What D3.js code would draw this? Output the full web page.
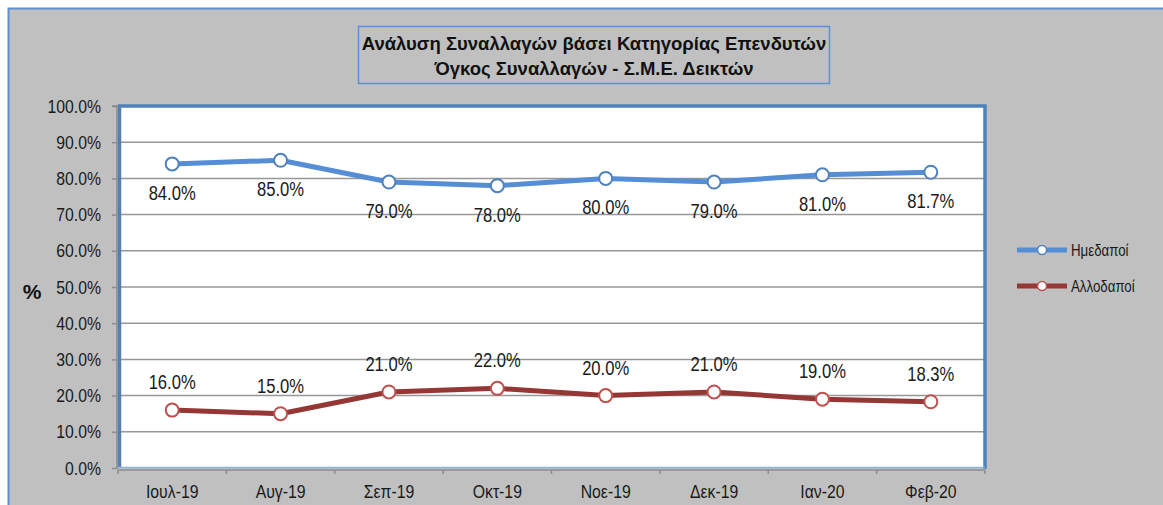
<!DOCTYPE html>
<html><head><meta charset="utf-8">
<script src="https://cdn.jsdelivr.net/npm/d3@7"></script>
<style>body{margin:0;background:#fff;}svg{display:block;}</style>
</head><body>
<svg id="c" width="1163" height="505"></svg>
<script>
const categories = ["Ιουλ-19","Αυγ-19","Σεπ-19","Οκτ-19","Νοε-19","Δεκ-19","Ιαν-20","Φεβ-20"];
const domestic = [84.0,85.0,79.0,78.0,80.0,79.0,81.0,81.7];
const foreign = [16.0,15.0,21.0,22.0,20.0,21.0,19.0,18.3];
const seriesNames = ["Ημεδαποί","Αλλοδαποί"];
const yTicks = [0,10,20,30,40,50,60,70,80,90,100];
const titleLines = ["Ανάλυση Συναλλαγών βάσει Κατηγορίας Επενδυτών","Όγκος Συναλλαγών - Σ.Μ.Ε. Δεικτών"];

const svg = d3.select("#c");
const narrow = "'Liberation Sans',Arial,sans-serif";
const sans = "'Liberation Sans',Arial,sans-serif";

svg.append("rect").attr("x",0).attr("y",0).attr("width",1163).attr("height",505).attr("fill","#fff");
svg.append("rect").attr("x",8.5).attr("y",8.5).attr("width",1170).attr("height",510)
  .attr("fill","#c0c0c0").attr("stroke","#5b8fd6").attr("stroke-width",2);

const L=118, R=985, T=106, B=468;
const x = d3.scaleBand().domain(categories).range([L,R]);
const y = d3.scaleLinear().domain([0,100]).range([B,T]);

svg.append("rect").attr("x",L+1).attr("y",T).attr("width",R-L-1).attr("height",B-T).attr("fill","#fff");
svg.append("g").selectAll("line").data(yTicks.filter(d=>d>0)).join("line")
  .attr("x1",L).attr("x2",R).attr("y1",d=>y(d)).attr("y2",d=>y(d))
  .attr("stroke","#979797").attr("stroke-width",1.5);
svg.append("path").attr("d",`M${L+1.5},${B} V${T} H${R} V${B+1}`).attr("fill","none")
  .attr("stroke","#4f81bd").attr("stroke-width",3.5);
svg.append("line").attr("x1",L).attr("x2",R).attr("y1",B-0.5).attr("y2",B-0.5).attr("stroke","#8db3e2").attr("stroke-width",1.5);

const ya = svg.append("g").attr("transform",`translate(${L-1},0)`)
  .call(d3.axisLeft(y).tickValues(yTicks).tickFormat(d=>d3.format(".1f")(d)+"%").tickSize(5).tickPadding(11));
ya.select(".domain").attr("stroke","#8c8c8c").attr("stroke-width",1.5).attr("d",`M-5,${T}H0V${B+1}`);
ya.selectAll(".tick line").attr("stroke","#8c8c8c").attr("stroke-width",1.5);
ya.selectAll("text").attr("font-family",narrow).attr("font-size",19).attr("fill","#1a1a1a").classed("nar",true);

const xa = svg.append("g").attr("transform",`translate(0,${B+2})`)
  .call(d3.axisBottom(x).tickSize(0).tickPadding(15));
xa.select(".domain").attr("stroke","#8c8c8c").attr("stroke-width",1.5).attr("d",`M${L},0H${R}`);
xa.selectAll("text").attr("font-family",narrow).attr("font-size",19).attr("fill","#1a1a1a").classed("nar",true);
const bounds = d3.range(categories.length+1).map(i=>L+i*x.bandwidth());
xa.append("g").selectAll("line").data(bounds).join("line")
  .attr("x1",d=>d).attr("x2",d=>d).attr("y1",0).attr("y2",4).attr("stroke","#8c8c8c").attr("stroke-width",1.5);

const cx = d=>x(d)+x.bandwidth()/2;
const series = [
  {name:seriesNames[0], vals:domestic, line:"#558ed5", mark:"#4f81bd", dy:36},
  {name:seriesNames[1], vals:foreign, line:"#953735", mark:"#c0504d", dy:-21}
];
const lineGen = d3.line().x(d=>cx(d.c)).y(d=>y(d.v));
series.forEach(s=>{
  const pts = categories.map((c,i)=>({c,v:s.vals[i]}));
  svg.append("path").datum(pts).attr("d",lineGen).attr("fill","none")
    .attr("stroke",s.line).attr("stroke-width",5).attr("stroke-linejoin","round");
  svg.append("g").selectAll("circle").data(pts).join("circle")
    .attr("cx",d=>cx(d.c)).attr("cy",d=>y(d.v)).attr("r",6.5)
    .attr("fill","#fff").attr("stroke",s.mark).attr("stroke-width",2);
  svg.append("g").selectAll("text").data(pts).join("text")
    .attr("x",d=>cx(d.c)).attr("y",d=>y(d.v)+s.dy).attr("text-anchor","middle")
    .attr("font-family",narrow).attr("font-size",20).attr("fill","#1a1a1a").classed("nar",true)
    .text(d=>d3.format(".1f")(d.v)+"%");
});

series.forEach((s,i)=>{
  const ly = 250 + i*36;
  svg.append("line").attr("x1",1017).attr("x2",1067).attr("y1",ly).attr("y2",ly)
    .attr("stroke",s.line).attr("stroke-width",5);
  svg.append("circle").attr("cx",1042).attr("cy",ly).attr("r",4.5).attr("fill","#fff").attr("stroke",s.mark).attr("stroke-width",1.5);
  svg.append("text").attr("x",1071).attr("y",ly+6).attr("font-family",narrow).attr("font-size",16).attr("fill","#1a1a1a").classed("nar",true).text(s.name);
});

svg.append("text").attr("x",32).attr("y",299).attr("text-anchor","middle")
  .attr("font-family",sans).attr("font-weight","bold").attr("font-size",21).attr("fill","#111").text("%");

svg.append("rect").attr("x",358.5).attr("y",26.5).attr("width",471).attr("height",57)
  .attr("fill","#c0c0c0").attr("stroke","#5b8fd6").attr("stroke-width",1.5);
titleLines.forEach((t,i)=>{
  svg.append("text").attr("x",594).attr("y",50+i*25).attr("text-anchor","middle")
    .attr("font-family",sans).attr("font-weight","bold").attr("font-size",18.5).attr("fill","#111").text(t);
});

svg.selectAll("text.nar").each(function(){
  const w = this.getComputedTextLength();
  d3.select(this).attr("textLength",w*0.83).attr("lengthAdjust","spacingAndGlyphs");
});
</script>
</body></html>
